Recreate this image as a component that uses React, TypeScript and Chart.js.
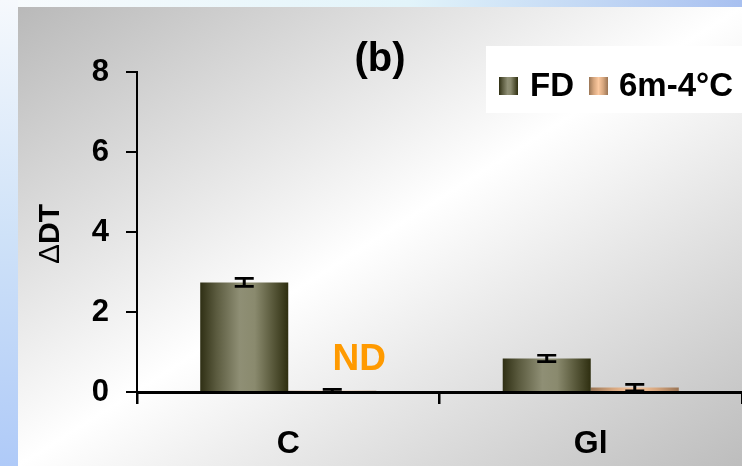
import React, { useEffect, useRef } from 'react';
import { Chart, registerables } from 'chart.js';

Chart.register(...registerables);

const categories = ['C', 'Gl'];
const seriesNames = ['FD', '6m-4°C'];
const fdValues = [2.74, 0.84];
const fdErrors = [0.1, 0.08];
const coldValues = [0.03, 0.11];
const coldErrors = [0.04, 0.08];
const yTickValues = [0, 2, 4, 6, 8];
const panelTitle = '(b)';
const yAxisTitleSymbol = 'Δ';
const yAxisTitleText = 'DT';
const ndLabel = 'ND';

const FONT = '"Liberation Sans", Arial, sans-serif';
const CAT_PCT = 0.582;

const fdStops: [number, string][] = [
  [0, '#2f2f14'],
  [0.18, '#5a5a3e'],
  [0.45, '#8f8f75'],
  [0.62, '#8a8a6e'],
  [0.82, '#5a5a3c'],
  [1, '#2e2e10'],
];
const coldStops: [number, string][] = [
  [0, '#9a7656'],
  [0.25, '#d6a67e'],
  [0.5, '#fcc9a0'],
  [0.75, '#d6a67e'],
  [1, '#9a7454'],
];
const stopsList = [fdStops, coldStops];

function makeGradient(ctx: CanvasRenderingContext2D, left: number, width: number, stops: [number, string][]) {
  const g = ctx.createLinearGradient(left, 0, left + width, 0);
  stops.forEach(([o, c]) => g.addColorStop(o, c));
  return g;
}

function barColor(context: any) {
  const chart = context.chart;
  const ds = context.datasetIndex ?? 0;
  const stops = stopsList[ds];
  const xs = chart.scales && chart.scales.x;
  if (!xs || context.dataIndex === undefined || !isFinite(xs.width)) return stops[2][1];
  const center = xs.getPixelForValue(context.dataIndex);
  const cat = xs.width / categories.length;
  const group = cat * CAT_PCT;
  const bw = group / 2;
  const left = center - group / 2 + ds * bw;
  return makeGradient(chart.ctx, left, bw, stops);
}

const errorBarPlugin = {
  id: 'errorBars',
  afterDatasetsDraw(chart: any) {
    const { ctx } = chart;
    const y = chart.scales.y;
    const errs = [fdErrors, coldErrors];
    const vals = [fdValues, coldValues];
    ctx.save();
    ctx.strokeStyle = '#000';
    ctx.lineCap = 'butt';
    for (let d = 0; d < 2; d++) {
      const meta = chart.getDatasetMeta(d);
      meta.data.forEach((el: any, i: number) => {
        const v = vals[d][i];
        const e = errs[d][i];
        const top = y.getPixelForValue(v + e);
        const bot = y.getPixelForValue(Math.max(v - e, 0));
        const cx = el.x;
        ctx.lineWidth = 3;
        ctx.beginPath();
        ctx.moveTo(cx, top);
        ctx.lineTo(cx, bot);
        ctx.stroke();
        ctx.lineWidth = 2.6;
        ctx.beginPath();
        ctx.moveTo(cx - 9.5, top);
        ctx.lineTo(cx + 9.5, top);
        ctx.moveTo(cx - 9.5, bot);
        ctx.lineTo(cx + 9.5, bot);
        ctx.stroke();
      });
    }
    ctx.restore();
  },
};

const overlayPlugin = {
  id: 'overlay',
  afterDraw(chart: any) {
    const { ctx } = chart;
    const xs = chart.scales.x;
    ctx.save();
    // title
    ctx.fillStyle = '#000';
    ctx.font = `bold 40px ${FONT}`;
    ctx.textAlign = 'center';
    ctx.textBaseline = 'alphabetic';
    ctx.fillText(panelTitle, 380, 71);

    // y-axis title: thin delta + bold DT, rotated
    ctx.save();
    ctx.translate(59, 234);
    ctx.rotate(-Math.PI / 2);
    ctx.textAlign = 'left';
    ctx.textBaseline = 'alphabetic';
    ctx.font = `normal 30px ${FONT}`;
    const wd = ctx.measureText(yAxisTitleSymbol).width;
    ctx.font = `bold 30px ${FONT}`;
    const wt = ctx.measureText(yAxisTitleText).width;
    const start = -(wd + wt) / 2;
    ctx.font = `normal 30px ${FONT}`;
    ctx.fillText(yAxisTitleSymbol, start, 0);
    ctx.font = `bold 30px ${FONT}`;
    ctx.fillText(yAxisTitleText, start + wd, 0);
    ctx.restore();

    // ND label over the missing bar
    const meta = chart.getDatasetMeta(1);
    const ndX = meta.data[0] ? meta.data[0].x + 27 : xs.getPixelForValue(0) + 70;
    ctx.fillStyle = '#ff9a00';
    ctx.font = `bold 37px ${FONT}`;
    ctx.textAlign = 'center';
    ctx.fillText(ndLabel, ndX, 370);

    // legend box
    ctx.fillStyle = '#ffffff';
    ctx.fillRect(486, 46, 256, 67);
    const sw = [
      { x: 499, textX: 530 },
      { x: 589, textX: 619 },
    ];
    sw.forEach((s, i) => {
      ctx.fillStyle = makeGradient(ctx, s.x, 19, stopsList[i]);
      ctx.fillRect(s.x, 77, 19, 18);
      ctx.fillStyle = '#000';
      ctx.font = `bold 33px ${FONT}`;
      ctx.textAlign = 'left';
      ctx.fillText(seriesNames[i], s.textX, 96);
    });
    ctx.restore();
  },
};

export default function App() {
  const ref = useRef<HTMLCanvasElement>(null);
  useEffect(() => {
    const canvas = ref.current;
    if (!canvas) return;
    const chart = new Chart(canvas, {
      type: 'bar',
      data: {
        labels: categories,
        datasets: [
          {
            label: seriesNames[0],
            data: fdValues,
            backgroundColor: barColor,
            categoryPercentage: CAT_PCT,
            barPercentage: 1,
          },
          {
            label: seriesNames[1],
            data: coldValues,
            backgroundColor: barColor,
            categoryPercentage: CAT_PCT,
            barPercentage: 1,
          },
        ],
      },
      options: {
        responsive: false,
        animation: false,
        layout: { padding: { top: 72, right: 0, bottom: 0, left: 0 } },
        plugins: {
          legend: { display: false },
          title: { display: false },
          tooltip: { enabled: false },
        },
        scales: {
          x: {
            type: 'category',
            offset: true,
            z: 1,
            grid: {
              offset: true,
              drawOnChartArea: false,
              drawTicks: true,
              tickLength: 12,
              color: '#000',
              lineWidth: 2.5,
            },
            border: { display: true, color: '#000', width: 3 },
            ticks: {
              color: '#000',
              font: { family: FONT, size: 32, weight: 'bold' },
              padding: 21,
            },
            afterFit: (s: any) => {
              s.height = 74;
            },
          },
          y: {
            min: 0,
            max: 8,
            z: 1,
            afterBuildTicks: (s: any) => {
              s.ticks = yTickValues.map((v) => ({ value: v }));
            },
            ticks: {
              color: '#000',
              font: { family: FONT, size: 31, weight: 'bold' },
              padding: 17,
            },
            grid: {
              drawOnChartArea: false,
              drawTicks: true,
              tickLength: 11,
              color: '#000',
              lineWidth: 2,
            },
            border: { display: true, color: '#000', width: 2 },
            title: { display: false },
            afterFit: (s: any) => {
              s.width = 137;
            },
          },
        },
      } as any,
      plugins: [errorBarPlugin, overlayPlugin],
    });
    return () => chart.destroy();
  }, []);

  return (
    <div style={{ position: 'absolute', left: 0, top: 0, width: 742, height: 466, overflow: 'hidden' }}>
      <div
        style={{
          position: 'absolute',
          left: 0,
          top: 0,
          width: 742,
          height: 7,
          background: 'linear-gradient(to right, #f8fbfd 0%, #e2f4fa 55%, #a8c0f0 100%)',
        }}
      />
      <div
        style={{
          position: 'absolute',
          left: 0,
          top: 0,
          width: 18,
          height: 466,
          background: 'linear-gradient(to bottom, #f6f9fd 0%, #cfe2f8 50%, #afcaf8 100%)',
        }}
      />
      <div
        style={{
          position: 'absolute',
          left: 18,
          top: 7,
          width: 724,
          height: 459,
          background: 'linear-gradient(to bottom right, #b9b9b9 0%, #ffffff 50%, #bdbdbd 100%)',
        }}
      />
      <canvas ref={ref} width={742} height={466} style={{ position: 'absolute', left: 0, top: 0 }} />
    </div>
  );
}
